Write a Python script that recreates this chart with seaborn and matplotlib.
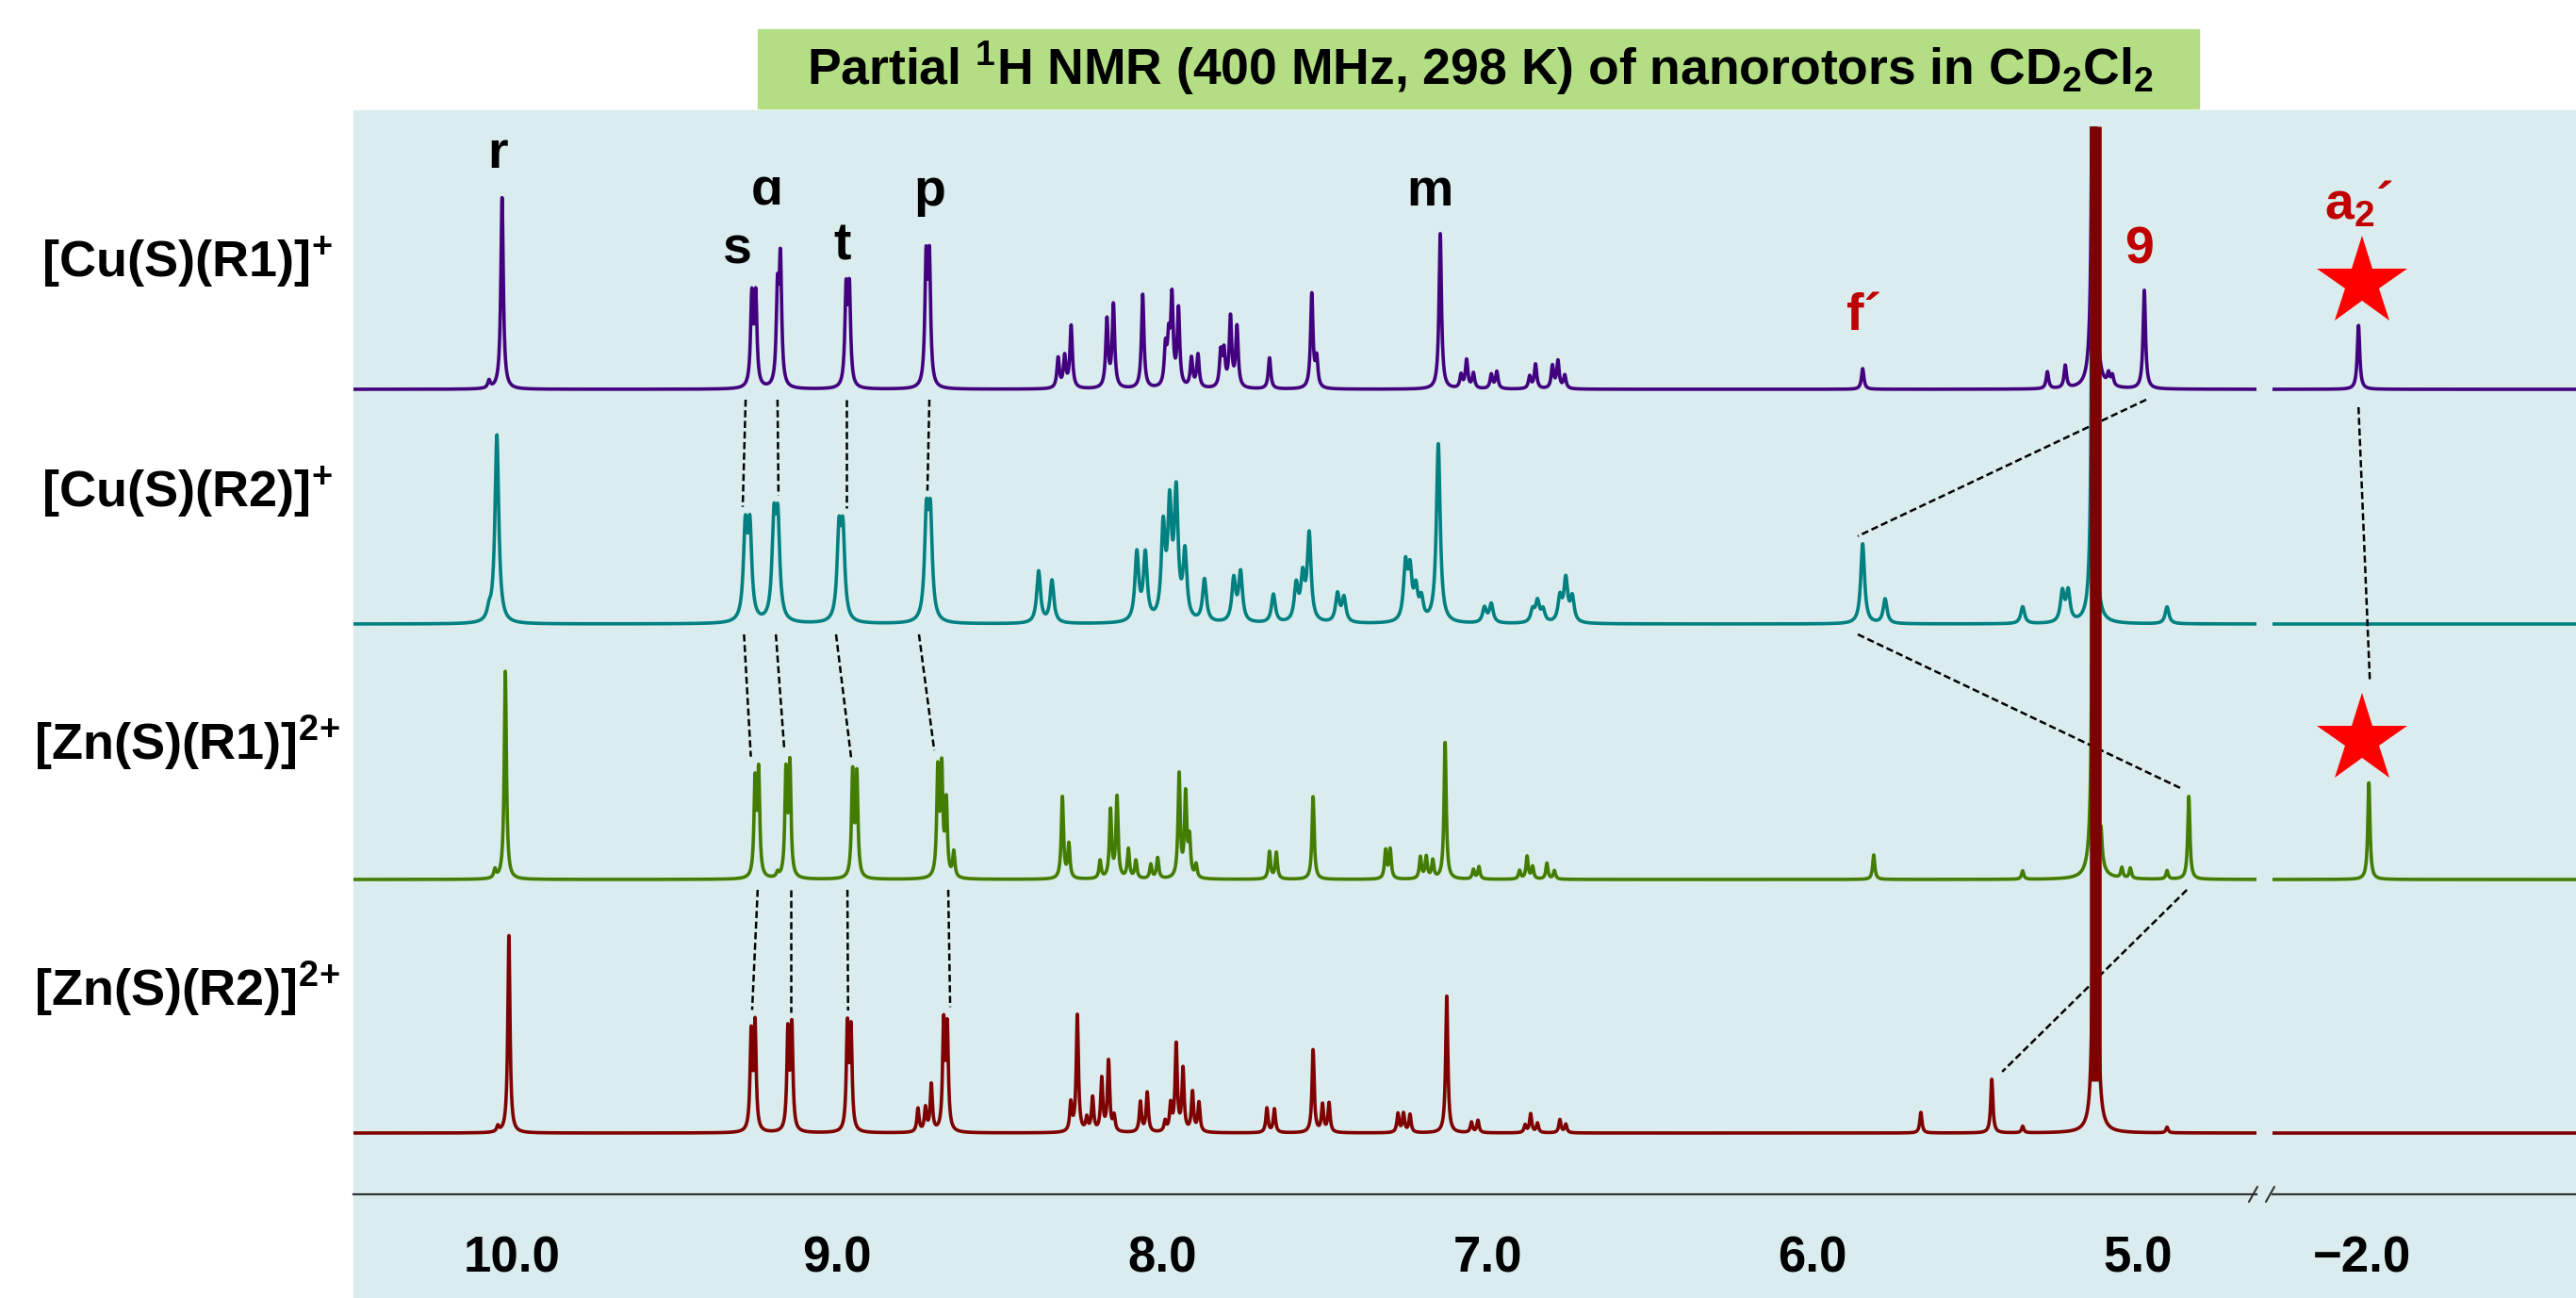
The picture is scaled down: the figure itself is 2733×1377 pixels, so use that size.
"""
Stacked partial 1H NMR spectra of four nanorotors (CD2Cl2, 400 MHz),
drawn from peak lists read off the original figure.
"""
import numpy as np
import pandas as pd
import matplotlib
matplotlib.use("Agg")
import matplotlib.pyplot as plt
from matplotlib.patches import Rectangle
from matplotlib.lines import Line2D
from matplotlib.ticker import FixedLocator
import seaborn as sns

# 1. Data (ppm, peak height in px above each trace's baseline)
ROW_NAMES = ["CuR1", "CuR2", "ZnR1", "ZnR2"]
ROW_LABELS = [r"[Cu(S)(R1)]$^{+}$", r"[Cu(S)(R2)]$^{+}$",
              r"[Zn(S)(R1)]$^{2\!+}$", r"[Zn(S)(R2)]$^{2\!+}$"]
ROW_COLORS = ["#42007f", "#008080", "#437d00", "#7f0000"]
BASELINES = [854, 605, 334, 65]
GAMMA = [0.0045, 0.007, 0.004, 0.004]

CU_R1_PPM = [10.07, 10.03, 9.262, 9.250, 9.183, 9.174, 8.972, 8.962, 8.726, 8.716,
             8.32, 8.30, 8.28, 8.17, 8.15, 8.06, 7.99, 7.98, 7.97, 7.95, 7.91, 7.89,
             7.82, 7.81, 7.79, 7.77, 7.67, 7.54, 7.525, 7.145, 7.081, 7.064, 7.043,
             6.988, 6.971, 6.870, 6.852, 6.800, 6.783, 6.762, 5.846, 5.278, 5.223,
             5.09, 5.078, 4.980]
CU_R1_H = [8, 204, 95, 95, 95, 130, 100, 100, 130, 130,
           32, 33, 66, 72, 88, 100, 40, 45, 92, 82, 31, 35,
           36, 36, 74, 64, 33, 100, 30, 165, 14, 30, 16,
           15, 18, 13, 26, 24, 29, 14, 22, 18, 24,
           12, 11, 105]

CU_R2_PPM = [10.07, 10.046, 9.282, 9.268, 9.194, 9.182, 8.994, 8.982, 8.725, 8.713,
             8.380, 8.339, 8.078, 8.052, 7.997, 7.977, 7.957, 7.930, 7.870, 7.780,
             7.759, 7.658, 7.588, 7.568, 7.548, 7.461, 7.441, 7.252, 7.238, 7.220,
             7.203, 7.151, 7.009, 6.988, 6.861, 6.846, 6.829, 6.777, 6.759, 6.739,
             5.846, 5.777, 5.354, 5.232, 5.214, 4.910]
CU_R2_H = [10, 200, 95, 95, 100, 100, 90, 90, 105, 105,
           55, 45, 72, 70, 95, 115, 130, 70, 45, 45,
           52, 30, 38, 45, 92, 30, 26, 58, 50, 32,
           22, 190, 16, 20, 13, 22, 13, 26, 45, 26,
           85, 26, 18, 32, 32, 18]

ZN_R1_PPM = [10.052, 10.020, 9.252, 9.241, 9.183, 9.157, 9.145, 8.952, 8.939, 8.690,
             8.678, 8.664, 8.641, 8.307, 8.287, 8.191, 8.159, 8.139, 8.104, 8.081,
             8.035, 8.014, 7.948, 7.928, 7.916, 7.896, 7.670, 7.649, 7.536, 7.313,
             7.299, 7.206, 7.188, 7.168, 7.130, 7.043, 7.026, 6.901, 6.878, 6.861,
             6.817, 6.794, 5.812, 5.354, 5.113, 5.049, 5.023, 4.910, 4.843]
ZN_R1_H = [9, 221, 100, 110, 5, 110, 118, 110, 108, 112,
           112, 78, 27, 87, 36, 19, 72, 86, 31, 19,
           15, 22, 110, 88, 40, 14, 29, 28, 88, 30,
           31, 23, 23, 19, 145, 10, 13, 9, 24, 13,
           17, 9, 26, 9, 30, 11, 11, 9, 88]

ZN_R2_PPM = [10.043, 10.009, 9.264, 9.252, 9.151, 9.139, 8.968, 8.957, 8.751, 8.728,
             8.710, 8.672, 8.661, 8.281, 8.261, 8.232, 8.214, 8.186, 8.165, 8.148,
             8.067, 8.046, 7.991, 7.974, 7.957, 7.936, 7.907, 7.887, 7.678, 7.655,
             7.536, 7.507, 7.487, 7.275, 7.258, 7.238, 7.125, 7.049, 7.029, 6.884,
             6.867, 6.846, 6.777, 6.759, 5.667, 5.449, 5.354, 5.139, 4.910]
ZN_R2_H = [6, 210, 102, 112, 105, 110, 110, 105, 25, 25,
           50, 112, 108, 30, 124, 14, 36, 56, 75, 16,
           32, 42, 11, 28, 92, 66, 42, 31, 26, 25,
           88, 29, 31, 20, 20, 19, 146, 11, 13, 8,
           20, 10, 14, 9, 22, 57, 7, 55, 6]

# residual CHDCl2 line, off scale in every trace
SOLVENT_PPM = [5.136, 5.137, 5.135, 5.130]
SOLVENT_H = [1200, 1200, 1200, 1200]
SOLVENT_GAMMA = 0.0033

# high-field window (a2' signal)
HF_PPM = [[-1.990], [], [-2.022], []]
HF_H = [[68], [], [103], []]
STAR_ROWS = [0, 2]

# dashed correlation lines: (ppm upper trace, upper row, ppm lower trace, lower row)
LINKS = [(9.281, 0, 9.290, 1), (9.183, 0, 9.180, 1), (8.971, 0, 8.971, 1), (8.716, 0, 8.722, 1),
         (9.286, 1, 9.265, 2), (9.188, 1, 9.162, 2), (9.003, 1, 8.956, 2), (8.748, 1, 8.701, 2),
         (9.244, 2, 9.261, 3), (9.143, 2, 9.143, 3), (8.968, 2, 8.966, 3), (8.658, 2, 8.652, 3),
         (4.974, 0, 5.861, 1), (5.861, 1, 4.864, 2), (4.849, 2, 5.417, 3)]

# peak assignments (text, ppm, baseline height of the text, red?)
PEAK_TAGS = [("r", 10.043, 1089, False), ("s", 9.31, 987, False), ("ɑ", 9.215, 1050, False),
             ("t", 8.983, 992, False), ("p", 8.716, 1049, False), ("m", 7.177, 1049, False),
             ("f´", 5.843, 917, True), ("9", 4.997, 987, True)]
HF_TAG = (r"a$_{2}$´", -1.99, 1035)

MAJOR_L = [10.3, 9.8, 9.3, 8.8, 8.3, 7.8, 7.3, 6.8, 6.3, 5.8, 5.3, 4.8]
MINOR_L = [10.05, 9.55, 9.05, 8.55, 8.05, 7.55, 7.05, 6.55, 6.05, 5.55, 5.05]
LABEL_L = [10.0, 9.0, 8.0, 7.0, 6.0, 5.0]
MAJOR_R = [-2.22]
MINOR_R = [-1.97, -2.47]
LABEL_R = [-2.0]

TITLE = r"Partial $^{1}$H NMR (400 MHz, 298 K) of nanorotors in CD$_{2}$Cl$_{2}$"

# 2. Styling
W, H = 2733, 1377
PANEL = "#daeced"
TITLE_BOX = "#b3de84"
DARK_RED = "#c00000"
AXIS_C = "#333333"
YTOP = 1133

sns.set_theme(style="white")
plt.rcParams["font.family"] = ["Liberation Sans", "DejaVu Sans"]
plt.rcParams["text.color"] = "black"
plt.rcParams["xtick.color"] = "black"
plt.rcParams["xtick.labelcolor"] = "black"
plt.rcParams["mathtext.fontset"] = "custom"
plt.rcParams["mathtext.rm"] = "Liberation Sans:bold"
plt.rcParams["mathtext.bf"] = "Liberation Sans:bold"
plt.rcParams["mathtext.it"] = "Liberation Sans:bold"


def lorentz(grid, ppm, h, gamma):
    if len(ppm) == 0:
        return np.zeros_like(grid)
    p = np.asarray(ppm, float)[:, None]
    a = np.asarray(h, float)[:, None]
    return (a / (1.0 + ((grid[None, :] - p) / gamma) ** 2)).sum(axis=0)


grid_l = np.linspace(10.49, 4.63, 9000)
grid_r = np.linspace(-1.72, -2.66, 1500)
peaks = [(CU_R1_PPM, CU_R1_H), (CU_R2_PPM, CU_R2_H),
         (ZN_R1_PPM, ZN_R1_H), (ZN_R2_PPM, ZN_R2_H)]

spec_l, spec_r = [], []
for i, (pp, hh) in enumerate(peaks):
    s = lorentz(grid_l, pp, hh, GAMMA[i])
    s += lorentz(grid_l, [SOLVENT_PPM[i]], [SOLVENT_H[i]], SOLVENT_GAMMA)
    spec_l.append(s)
    spec_r.append(lorentz(grid_r, HF_PPM[i], HF_H[i], GAMMA[i]))

df_l = pd.concat([pd.DataFrame({"ppm": grid_l, "y": BASELINES[i] + spec_l[i], "row": n})
                  for i, n in enumerate(ROW_NAMES)], ignore_index=True)
df_r = pd.concat([pd.DataFrame({"ppm": grid_r, "y": BASELINES[i] + spec_r[i], "row": n})
                  for i, n in enumerate(ROW_NAMES)], ignore_index=True)
palette = dict(zip(ROW_NAMES, ROW_COLORS))

# 3. Figure
fig = plt.figure(figsize=(W / 100, H / 100), dpi=100, facecolor="white")
fig.patches.append(Rectangle((375 / W, 0), 1 - 375 / W, (H - 117) / H,
                             transform=fig.transFigure, color=PANEL, zorder=-10))
fig.patches.append(Rectangle((804 / W, 1 - 115 / H), (2333 - 804) / W, 84 / H,
                             transform=fig.transFigure, color=TITLE_BOX, zorder=-10))
fig.text(1570 / W, 1 - 73 / H, TITLE, ha="center", va="center",
         fontsize=38.5, fontweight="bold", color="black")

ax_bottom, ax_h = 110 / H, (1267 - 134) / H
ax_l = fig.add_axes([375 / W, ax_bottom, (2394 - 375) / W, ax_h])
ax_r = fig.add_axes([2411 / W, ax_bottom, (2733 - 2411) / W, ax_h])

for ax, df in ((ax_l, df_l), (ax_r, df_r)):
    ax.set_facecolor("none")
    sns.lineplot(data=df, x="ppm", y="y", hue="row", palette=palette, estimator=None,
                 sort=False, linewidth=2.6, legend=False, ax=ax)
    ax.set(xlabel="", ylabel="", ylim=(0, YTOP), yticks=[])
    for side in ("top", "left", "right"):
        ax.spines[side].set_visible(False)
    ax.spines["bottom"].set_color(AXIS_C)
    ax.spines["bottom"].set_linewidth(1.6)
    ax.tick_params(axis="x", which="major", direction="out", length=10, width=1.5,
                   color=AXIS_C, labelbottom=False)
    ax.tick_params(axis="x", which="minor", direction="out", length=6, width=1.5,
                   color=AXIS_C, labelbottom=False)

ax_l.set_xlim(10.487, 4.635)
ax_r.set_xlim(-1.725, -2.66)
ax_l.xaxis.set_major_locator(FixedLocator(MAJOR_L))
ax_l.xaxis.set_minor_locator(FixedLocator(MINOR_L))
ax_r.xaxis.set_major_locator(FixedLocator(MAJOR_R))
ax_r.xaxis.set_minor_locator(FixedLocator(MINOR_R))

for ax, vals in ((ax_l, LABEL_L), (ax_r, LABEL_R)):
    sec = ax.secondary_xaxis("bottom")
    sec.set_xticks(vals, labels=[f"{v:.1f}".replace("-", "\u2212") for v in vals])
    sec.tick_params(length=0, pad=31, labelsize=38, labelcolor="black")
    sec.spines["bottom"].set_visible(False)
    for lab in sec.get_xticklabels():
        lab.set_fontweight("bold")

# thick off-scale solvent line of the bottom trace, on top of everything
ax_l.vlines(SOLVENT_PPM[3], BASELINES[3] + 55, YTOP, color=ROW_COLORS[3], lw=9, zorder=6)

# axis break marks
for x0 in (2386, 2404):
    fig.add_artist(Line2D([x0 / W, (x0 + 9) / W], [(110 - 8) / H, (110 + 8) / H],
                          color=AXIS_C, lw=1.5))


def top_of(row, ppm, win=0.035):
    m = np.abs(grid_l - ppm) < win
    return BASELINES[row] + spec_l[row][m].max()


dash = dict(color="black", lw=1.8, linestyle=(0, (3, 1.5)), zorder=4)
for p0, r0, p1, r1 in LINKS:
    ax_l.plot([p0, p1], [BASELINES[r0] - 11, top_of(r1, p1) + 8], **dash)

# peak assignments
for txt, ppm, y, red in PEAK_TAGS:
    ax_l.text(ppm, y, txt, ha="center", va="baseline", fontsize=40, fontweight="bold",
              color=DARK_RED if red else "black")
ax_r.text(HF_TAG[1], HF_TAG[2], HF_TAG[0], ha="center", va="baseline", fontsize=40,
          fontweight="bold", color=DARK_RED)

# stars above the a2' signal
star_y = [BASELINES[r] + HF_H[r][0] + 45 for r in STAR_ROWS]
ax_r.plot([-2.0] * len(STAR_ROWS), star_y, linestyle="none", marker="*",
          markersize=72, color="#ff0000", markeredgewidth=0, zorder=5)
ax_r.plot([HF_PPM[0][0], -2.025], [BASELINES[0] - 19, star_y[1] + 62], **dash)

# row labels
for lab, y in zip(ROW_LABELS, [279, 523, 788, 1049]):
    fig.text(198 / W, 1 - y / H, lab, ha="center", va="center", fontsize=39,
             fontweight="bold", color="black")

fig.savefig("out.png", dpi=100, facecolor="white")
